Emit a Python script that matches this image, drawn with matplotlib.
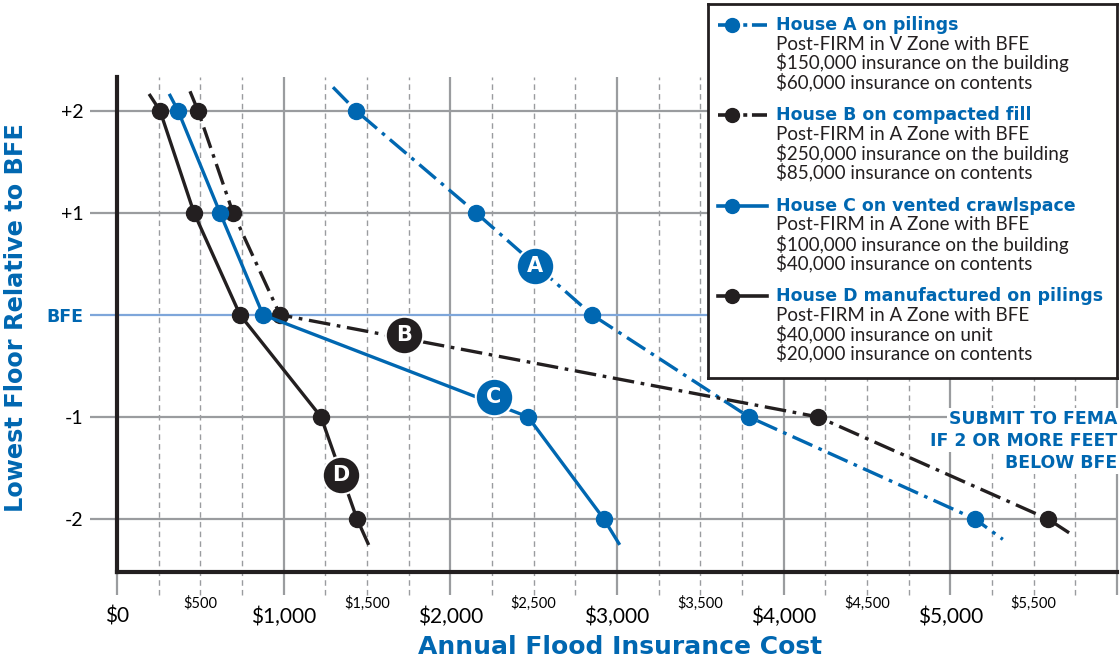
import matplotlib
matplotlib.use('Agg')
import matplotlib.pyplot as plt

plt.rcParams['font.family'] = ['Lato', 'DejaVu Sans']
HEAVY = ['DejaVu Sans']

BLUE = '#0067b1'
BLACK = '#231f20'
GRID = '#9a9c9f'
BFE_LINE = '#7ea6da'

# floor level relative to BFE (ft) and annual cost ($)
floors = [2, 1, 0, -1, -2]
cost_a = [1434, 2154, 2850, 3791, 5147]
cost_b = [486, 696, 978, 4205, 5585]
cost_c = [366, 618, 876, 2466, 2921]
cost_d = [258, 462, 738, 1224, 1440]

# short line stubs drawn past the end points
stub_start = {'A': (1296, 2.23), 'B': (438, 2.19), 'C': (318, 2.15), 'D': (198, 2.15)}
stub_end = {'A': (5315, -2.2), 'B': (5735, -2.16), 'C': (3011, -2.24), 'D': (1506, -2.24)}

major_x = [0, 1000, 2000, 3000, 4000, 5000]
major_x_labels = ['$0', '$1,000', '$2,000', '$3,000', '$4,000', '$5,000']
minor_x = [500, 1500, 2500, 3500, 4500, 5500]
minor_x_labels = ['$500', '$1,500', '$2,500', '$3,500', '$4,500', '$5,500']
y_ticks = [2, 1, 0, -1, -2]
y_labels = ['+2', '+1', 'BFE', '-1', '-2']

houses = ['A', 'B', 'C', 'D']
house_titles = ['House A on pilings', 'House B on compacted fill',
                'House C on vented crawlspace', 'House D manufactured on pilings']
house_notes = [
    ['Post-FIRM in V Zone with BFE', '$150,000 insurance on the building', '$60,000 insurance on contents'],
    ['Post-FIRM in A Zone with BFE', '$250,000 insurance on the building', '$85,000 insurance on contents'],
    ['Post-FIRM in A Zone with BFE', '$100,000 insurance on the building', '$40,000 insurance on contents'],
    ['Post-FIRM in A Zone with BFE', '$40,000 insurance on unit', '$20,000 insurance on contents'],
]
house_colors = [BLUE, BLACK, BLUE, BLACK]
dashdot = (0, (6.5, 2, 1.1, 2))
house_styles = [dashdot, dashdot, '-', '-']
legend_styles = [(0, (5.8, 1.2, 1.1, 1.3, 5, 1)), (0, (5.8, 1.2, 1.1, 1.3, 5, 1)), '-', '-']
label_pos = {'A': (2508, 0.48), 'B': (1722, -0.2), 'C': (2262, -0.81), 'D': (1344, -1.57)}

fig = plt.figure(figsize=(11.2, 6.6), dpi=100)
ax = fig.add_axes([117 / 1120, 1 - 572 / 660, 1000 / 1120, 495 / 660])
ax.set_xlim(0, 6000)
ax.set_ylim(-2.52, 2.33)

# grid: solid every $1000, dashed every $250, carried below the axis
for x in range(250, 6001, 250):
    if x % 1000 == 0:
        ax.vlines(x, -2.75, 2.33, color=GRID, lw=1.6, zorder=1, clip_on=False)
    else:
        ax.vlines(x, -2.75, 2.33, color=GRID, lw=1.0, linestyles=(0, (4, 3)), zorder=1, clip_on=False)
ax.vlines(0, -2.75, -2.52, color=GRID, lw=1.6, zorder=1, clip_on=False)
for y in [2, 1, -1, -2]:
    ax.hlines(y, -160, 6000, color=GRID, lw=1.6, zorder=1, clip_on=False)
ax.hlines(0, -160, 6000, color=BFE_LINE, lw=1.6, zorder=1.5, clip_on=False)

for spine in ['top', 'right']:
    ax.spines[spine].set_visible(False)
for spine in ['left', 'bottom']:
    ax.spines[spine].set_linewidth(3)
    ax.spines[spine].set_color(BLACK)
    ax.spines[spine].set_zorder(3)

ax.set_xticks(major_x, major_x_labels, fontsize=15)
ax.set_xticks(minor_x, minor_x_labels, minor=True, fontsize=10.5)
ax.tick_params(axis='x', which='major', length=0, pad=25)
ax.tick_params(axis='x', which='minor', length=0, pad=17)
ax.set_yticks(y_ticks, y_labels, fontsize=14)
ax.tick_params(axis='y', length=0, pad=24)
for lab in ax.get_yticklabels():
    if lab.get_text() == 'BFE':
        lab.set_color(BLUE)
        lab.set_fontweight('bold')
        lab.set_family(HEAVY)
        lab.set_fontsize(12.5)

costs = [cost_a, cost_b, cost_c, cost_d]
for h, c, col, ls in zip(houses, costs, house_colors, house_styles):
    xs = [stub_start[h][0]] + c + [stub_end[h][0]]
    ys = [stub_start[h][1]] + floors + [stub_end[h][1]]
    ax.plot(xs, ys, color=col, lw=2.4, linestyle=ls, marker='o', ms=11.5,
            markevery=[1, 2, 3, 4, 5], zorder=4, clip_on=False)
    lx, ly = label_pos[h]
    ax.plot(lx, ly, 'o', ms=27, color=col, mec='white', mew=1.5, zorder=5)
    ax.text(lx, ly, h, color='white', fontsize=15, fontweight='bold', family=HEAVY,
            ha='center', va='center', zorder=6)

ax.set_xlabel('Annual Flood Insurance Cost', color=BLUE, fontsize=18, fontweight='bold', family=HEAVY)
ax.set_ylabel('Lowest Floor Relative to BFE', color=BLUE, fontsize=17.3, fontweight='bold', family=HEAVY)
ax.xaxis.set_label_coords(0.503, -0.127)
ax.yaxis.set_label_coords(-0.089, 0.515)

submit_lines = ['SUBMIT TO FEMA', 'IF 2 OR MORE FEET', 'BELOW BFE']
for i, s in enumerate(submit_lines):
    ax.text(6000, -1.02 - 0.215 * i, s, color=BLUE, fontsize=12.4, fontweight='bold', family=HEAVY,
            ha='right', va='center', zorder=7, clip_on=False,
            bbox=dict(facecolor='white', edgecolor='none', pad=1.5))

# legend box drawn in its own pixel-based axes
lg = fig.add_axes([708 / 1120, 1 - 378 / 660, 409 / 1120, 374 / 660])
lg.set_xlim(0, 409)
lg.set_ylim(374, 0)
lg.set_xticks([])
lg.set_yticks([])
for sp in lg.spines.values():
    sp.set_linewidth(2)
    sp.set_color(BLACK)
for i, (t, notes, col, ls) in enumerate(zip(house_titles, house_notes, house_colors, legend_styles)):
    y0 = 21 + 90.5 * i
    lg.plot([10, 59], [y0, y0], color=col, lw=2.6, linestyle=ls)
    lg.plot(24, y0, 'o', color=col, ms=10)
    lg.text(68, y0, t, color=BLUE, fontsize=12.5, fontweight='bold', family=HEAVY, va='center')
    for j, n in enumerate(notes):
        lg.text(68, y0 + 19 * (j + 1), n, color=BLACK, fontsize=13.5, va='center')

fig.savefig('out.png', dpi=100)
